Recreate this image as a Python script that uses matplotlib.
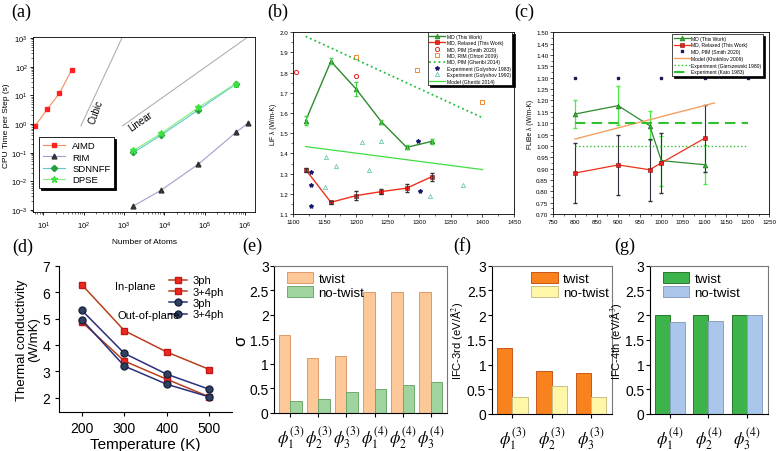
import numpy as np
import matplotlib.pyplot as plt
from matplotlib.ticker import AutoMinorLocator, MultipleLocator, FormatStrFormatter

plt.rcParams['font.family'] = ['Liberation Sans', 'DejaVu Sans']
plt.rcParams['mathtext.fontset'] = 'stix'
plt.rcParams['xtick.direction'] = 'out'
plt.rcParams['ytick.direction'] = 'out'

# ---- (a) CPU time vs number of atoms
aimd_n = [6.2, 12.5, 25, 50]
aimd_t = [0.87, 3.35, 11.9, 78]
rim_n = [1710, 8300, 70000, 594000, 1170000]
rim_t = [0.00138, 0.0049, 0.04, 0.51, 1.06]
ml_n = [1710, 8300, 70000, 594000]
sdnnff_t = [0.102, 0.41, 3.16, 25]
dpse_t = [0.12, 0.47, 3.8, 26]
cubic_n = [85, 880]
cubic_t = [0.87, 1000]
linear_n = [920, 1.07e6]
linear_t = [0.87, 1000]

# ---- (b) LiF
T_lif = [1120, 1160, 1200, 1240, 1280, 1320]
lif_md = [1.562, 1.856, 1.719, 1.557, 1.430, 1.460]
lif_md_err = [0.023, 0.015, 0.033, 0.01, 0.01, 0.012]
lif_rel = [1.320, 1.158, 1.191, 1.211, 1.228, 1.285]
lif_rel_err = [0.01, 0.008, 0.023, 0.012, 0.02, 0.02]
smith_T = [1104, 1200]
smith_k = [1.805, 1.785]
ohtori_T = [1200, 1297, 1400]
ohtori_k = [1.876, 1.813, 1.657]
gheribi_T = [1120, 1400]
gheribi_k = [1.980, 1.577]
model_T = [1120, 1400]
model_k = [1.434, 1.320]
gol83_T = [1129, 1129, 1129, 1298, 1301]
gol83_k = [1.306, 1.243, 1.141, 1.463, 1.216]
gol92_T = [1152, 1168, 1150, 1209, 1221, 1240, 1317, 1370]
gol92_k = [1.384, 1.340, 1.236, 1.455, 1.320, 1.463, 1.190, 1.244]

# ---- (c) FLiBe
T_fl = [800, 900, 973, 1000, 1100]
fl_md = [1.140, 1.177, 1.089, 0.935, 0.917]
fl_md_err = [0.062, 0.087, 0.065, 0.11, 0.085]
fl_rel = [0.880, 0.916, 0.895, 0.925, 1.033]
fl_rel_err = [0.132, 0.131, 0.137, 0.133, 0.147]
smith_fl_T = [800, 900, 1000, 1100, 1200]
smith_fl_k = [1.30, 1.30, 1.30, 1.30, 1.30]
kholk_T = [800, 1123]
kholk_k = [1.030, 1.189]
gier_T = [800, 1200]
gier_k = [1.0, 1.0]
kato_T = [800, 1200]
kato_k = [1.1, 1.1]

# ---- (d) thermal conductivity
temps = [200, 300, 400, 500]
in_3ph = [6.28, 4.54, 3.73, 3.07]
in_34ph = [4.87, 3.39, 2.70, 2.03]
out_3ph = [5.31, 3.68, 2.89, 2.32]
out_34ph = [4.96, 3.20, 2.51, 2.03]

# ---- (e)-(g) bars
sig_labels = [r'$\phi_1^{(3)}$', r'$\phi_2^{(3)}$', r'$\phi_3^{(3)}$',
              r'$\phi_1^{(4)}$', r'$\phi_2^{(4)}$', r'$\phi_3^{(4)}$']
sig_twist = [1.59, 1.13, 1.17, 2.47, 2.47, 2.47]
sig_notwist = [0.244, 0.28, 0.42, 0.49, 0.57, 0.635]
ifc3_labels = [r'$\phi_1^{(3)}$', r'$\phi_2^{(3)}$', r'$\phi_3^{(3)}$']
ifc3_twist = [1.33, 0.87, 0.82]
ifc3_notwist = [0.35, 0.57, 0.35]
ifc4_labels = [r'$\phi_1^{(4)}$', r'$\phi_2^{(4)}$', r'$\phi_3^{(4)}$']
ifc4_twist = [2.0, 2.0, 2.0]
ifc4_notwist = [1.87, 1.88, 2.01]

W, H = 779, 452


def box(l, r, t, b):
    return [l / W, 1 - b / H, (r - l) / W, (b - t) / H]


def fpt(x, y):
    # pixel position (from top-left) -> figure fraction
    return (x / W, 1 - y / H)


fig = plt.figure(figsize=(W / 100, H / 100), dpi=100)
shadow = {'color': 'black', 'alpha': 1.0, 'ox': 1.5, 'oy': -1.5}

# ================= (a)
ax = fig.add_axes(box(33.3, 255, 38, 213))
ax.set_xscale('log')
ax.set_yscale('log')
ax.plot(cubic_n, cubic_t, color='#b0b0b0', lw=0.8)
ax.plot(linear_n, linear_t, color='#b0b0b0', lw=0.8)
ax.plot(aimd_n, aimd_t, color='#f58a5a', lw=0.8, marker='s', ms=3.5,
        mfc='#ff2020', mec='#ff2020', label='AIMD')
ax.plot(rim_n, rim_t, color='#a0a0d0', lw=0.8, marker='^', ms=3.5,
        mfc='#333333', mec='#333333', label='RIM')
ax.plot(ml_n, sdnnff_t, color='#60c8c8', lw=0.8, marker='D', ms=3.2,
        mfc='#22a040', mec='#22a040', label='SDNNFF')
ax.plot(ml_n, dpse_t, color='#80ee80', lw=0.8, marker='*', ms=4.5,
        mfc='#40e040', mec='#40e040', label='DPSE')
ax.text(205, 2.85, 'Cubic', rotation=70, fontsize=7, ha='center', va='center')
ax.text(2500, 1.3, 'Linear', rotation=35, fontsize=7, ha='center', va='center')
ax.set_xlim(5.6, 1.77e6)
ax.set_ylim(8.5e-4, 1.1e3)
ax.tick_params(labelsize=5.5, length=2.5, width=0.6, pad=1.5)
ax.tick_params(which='minor', length=1.5, width=0.4)
ax.tick_params(axis='x', pad=3)
ax.set_xlabel('Number of Atoms', fontsize=6, labelpad=5)
ax.set_ylabel('CPU Time per Step (s)', fontsize=6, labelpad=1)
leg = ax.legend(loc='lower left', bbox_to_anchor=(0.026, 0.137), borderaxespad=0,
                fontsize=6.8, labelspacing=0.25, handlelength=2.3, fancybox=False,
                edgecolor='black', framealpha=1, shadow=shadow, borderpad=0.4)
leg.get_frame().set_linewidth(0.6)
for s in ax.spines.values():
    s.set_linewidth(0.6)

# ================= (b)
ax = fig.add_axes(box(293, 514, 33.3, 215))
ax.plot(T_lif, lif_md, color='#2e8a2e', lw=1.0, marker='^', ms=3.5,
        mfc='#30b030', mec='#207020', mew=0.4, label='MD (This Work)')
ax.errorbar(T_lif, lif_md, yerr=lif_md_err, fmt='none', ecolor='#40d040',
            elinewidth=0.7, capsize=1.2)
ax.plot(T_lif, lif_rel, color='#f03018', lw=1.0, marker='s', ms=3.2,
        mfc='#ee2020', mec='#801010', mew=0.4, label='MD, Relaxed (This Work)')
ax.errorbar(T_lif, lif_rel, yerr=lif_rel_err, fmt='none', ecolor='#303030',
            elinewidth=0.6, capsize=1.2)
ax.plot(smith_T, smith_k, ls='none', marker='o', ms=3, mfc='none',
        mec='#e02020', mew=0.7, label='MD, PIM (Smith 2020)')
ax.plot(ohtori_T, ohtori_k, ls='none', marker='s', ms=3, mfc='none',
        mec='#f08a30', mew=0.7, label='MD, RIM (Ohtori 2009)')
ax.plot(gheribi_T, gheribi_k, ls=':', color='#20c040', lw=1.3,
        label='MD, PIM (Gheribi 2014)')
ax.plot(gol83_T, gol83_k, ls='none', marker='*', ms=3, color='#1a1a6a',
        label='Experiment (Golyshov 1983)')
ax.plot(gol92_T, gol92_k, ls='none', marker='^', ms=3, mfc='none',
        mec='#50c0a0', mew=0.5, label='Experiment (Golyshov 1992)')
ax.plot(model_T, model_k, ls='-', color='#40dd40', lw=0.9,
        label='Model (Gheribi 2014)')
ax.set_xlim(1100, 1450)
ax.set_ylim(1.1, 2.0)
ax.xaxis.set_major_locator(MultipleLocator(50))
ax.yaxis.set_major_locator(MultipleLocator(0.1))
ax.yaxis.set_major_formatter(FormatStrFormatter('%.1f'))
ax.xaxis.set_minor_locator(AutoMinorLocator(2))
ax.yaxis.set_minor_locator(AutoMinorLocator(2))
ax.tick_params(labelsize=4.5, length=2, width=0.5, pad=1.5)
ax.tick_params(which='minor', length=1.2, width=0.4)
ax.set_ylabel('LiF λ (W/m-K)', fontsize=4.8, labelpad=1.5)
leg = ax.legend(loc='upper right', bbox_to_anchor=(0.993, 1.0), borderaxespad=0,
                fontsize=3.6, labelspacing=0.28, handlelength=3.2, fancybox=False,
                edgecolor='black', framealpha=1, shadow=shadow, borderpad=0.3,
                handletextpad=0.3)
leg.get_frame().set_linewidth(0.5)
for s in ax.spines.values():
    s.set_linewidth(0.6)

# ================= (c)
ax = fig.add_axes(box(553.3, 769.3, 33.3, 215))
ax.errorbar(T_fl, fl_md, yerr=fl_md_err, fmt='none', ecolor='#44ee44',
            elinewidth=0.9, capsize=1.2)
ax.errorbar(T_fl, fl_rel, yerr=fl_rel_err, fmt='none', ecolor='#303040',
            elinewidth=0.8, capsize=1.2)
ax.plot(T_fl, fl_md, color='#2e8a2e', lw=0.9, marker='^', ms=3.5,
        mfc='#30b030', mec='#207020', mew=0.4, label='MD (This Work)')
ax.plot(T_fl, fl_rel, color='#f03018', lw=0.9, marker='s', ms=3.2,
        mfc='#ee2020', mec='#801010', mew=0.4, label='MD, Relaxed (This Work)')
ax.plot(smith_fl_T, smith_fl_k, ls='none', marker='s', ms=2, color='#1a1a5a',
        label='MD, PIM (Smith 2020)')
ax.plot(kholk_T, kholk_k, color='#f5a060', lw=1.0, label='Model (Khokhlov 2009)')
ax.plot(gier_T, gier_k, color='#30c030', lw=1.0, ls=':',
        label='Experiment (Gierszewski 1980)')
ax.plot(kato_T, kato_k, color='#30c030', lw=1.5, ls=(0, (5, 3)),
        label='Experiment (Kato 1983)')
ax.set_xlim(750, 1250)
ax.set_ylim(0.70, 1.50)
ax.xaxis.set_major_locator(MultipleLocator(50))
ax.yaxis.set_major_locator(MultipleLocator(0.05))
ax.yaxis.set_major_formatter(FormatStrFormatter('%.2f'))
ax.xaxis.set_minor_locator(AutoMinorLocator(2))
ax.yaxis.set_minor_locator(AutoMinorLocator(2))
ax.tick_params(labelsize=4.5, length=2, width=0.5, pad=1.5)
ax.tick_params(which='minor', length=1.2, width=0.4)
ax.set_ylabel('FLiBe λ (W/m-K)', fontsize=4.8, labelpad=1.5)
leg = ax.legend(loc='upper right', bbox_to_anchor=(0.97, 0.99), borderaxespad=0,
                fontsize=3.6, labelspacing=0.35, handlelength=3.2, fancybox=False,
                edgecolor='black', framealpha=1, shadow=shadow, borderpad=0.3,
                handletextpad=0.3)
leg.get_frame().set_linewidth(0.5)
for s in ax.spines.values():
    s.set_linewidth(0.6)

# ================= (d)
ax = fig.add_axes(box(59.3, 232, 266.7, 413.3))
red_line, red_mk = '#b8401a', '#f02a1e'
blue_line, blue_mk = '#2a2f7a', '#2f4060'
ax.plot(temps, in_3ph, color=red_line, lw=1.1, marker='s', ms=5,
        mfc=red_mk, mec='#c01818', label='3ph')
ax.plot(temps, in_34ph, color=red_line, lw=1.1, marker='s', ms=5,
        mfc=red_mk, mec='#c01818', label='3+4ph')
ax.plot(temps, out_3ph, color=blue_line, lw=1.1, marker='o', ms=5,
        mfc=blue_mk, mec='#1a2440', label='3ph')
ax.plot(temps, out_34ph, color=blue_line, lw=1.1, marker='o', ms=5,
        mfc=blue_mk, mec='#1a2440', label='3+4ph')
ax.set_xlim(147, 553)
ax.set_ylim(1.45, 7)
ax.set_xticks(temps)
ax.set_yticks([2, 3, 4, 5, 6, 7])
ax.tick_params(labelsize=10, length=3, width=0.8)
ax.set_xlabel('Temperature (K)', fontsize=11, labelpad=1)
ax.set_ylabel('Thermal conductivity\n(W/mK)', fontsize=9.5, labelpad=1.5,
              linespacing=1.0)
ax.spines['top'].set_visible(False)
ax.spines['right'].set_visible(False)
ax.legend(loc='upper left', bbox_to_anchor=fpt(165, 272), bbox_transform=fig.transFigure,
          borderaxespad=0, fontsize=8, frameon=False, labelspacing=0.12,
          handlelength=1.6, handletextpad=0.5, borderpad=0.4)
fig.text(*fpt(115, 287), 'In-plane', fontsize=8, va='center')
fig.text(*fpt(117, 316), 'Out-of-plane', fontsize=8, va='center')


def bar_panel(rect, labels, twist, notwist, c_t, e_t, c_n, e_n, xlim, width,
              ylabel, ylab_size, leg_xy):
    ax = fig.add_axes(rect)
    x = np.arange(len(labels))
    ax.bar(x - width / 2, twist, width, color=c_t, edgecolor=e_t, lw=0.7, label='twist')
    ax.bar(x + width / 2, notwist, width, color=c_n, edgecolor=e_n, lw=0.7,
           label='no-twist')
    ax.set_xlim(*xlim)
    ax.set_ylim(0, 3)
    ax.set_xticks(x)
    ax.set_xticklabels(labels, fontsize=12)
    ax.set_yticks([0, 0.5, 1, 1.5, 2, 2.5, 3])
    ax.set_yticklabels(['0', '0.5', '1', '1.5', '2', '2.5', '3'])
    ax.tick_params(axis='y', labelsize=10, length=3, width=0.8, pad=1)
    ax.tick_params(axis='x', length=3, width=0.8, pad=4)
    ax.set_ylabel(ylabel, fontsize=ylab_size, labelpad=1)
    for side in ['top', 'right']:
        ax.spines[side].set_color('#777777')
    ax.legend(loc='upper left', bbox_to_anchor=fpt(*leg_xy),
              bbox_transform=fig.transFigure, borderaxespad=0,
              fontsize=9.5, frameon=False, labelspacing=0.08, handlelength=2.0,
              handleheight=0.9, handletextpad=0.4, borderpad=0.4)
    return ax


# ================= (e)
bar_panel(box(274.3, 446.7, 266.7, 414), sig_labels, sig_twist, sig_notwist,
          '#fcc898', '#e09a68', '#9fd49f', '#70a870', (-0.57, 5.57), 0.42,
          'σ', 12, (281.5, 267.5))

# ================= (f)
bar_panel(box(491.7, 611.7, 266.7, 415), ifc3_labels, ifc3_twist, ifc3_notwist,
          '#f7821e', '#c8561a', '#fff6a8', '#c8c088', (-0.53, 2.53), 0.39,
          'IFC-3rd (eV/Å$^2$)', 8, (526, 267.5))

# ================= (g)
bar_panel(box(650, 768.3, 266.7, 415), ifc4_labels, ifc4_twist, ifc4_notwist,
          '#3cb44b', '#2a7a2a', '#aac6ea', '#8aa0c0', (-0.52, 2.56), 0.39,
          'IFC-4th (eV/Å$^3$)', 8, (657.7, 267.5))

# panel letters
for lab, px, py in [('(a)', 11, 12), ('(b)', 267, 12), ('(c)', 514, 12),
                    ('(d)', 12, 247), ('(e)', 242, 246), ('(f)', 453, 246),
                    ('(g)', 614, 246)]:
    fig.text(px / W, 1 - py / H, lab, fontsize=13, family='Liberation Serif',
             va='center', ha='left')

fig.savefig('out.png', dpi=100)
